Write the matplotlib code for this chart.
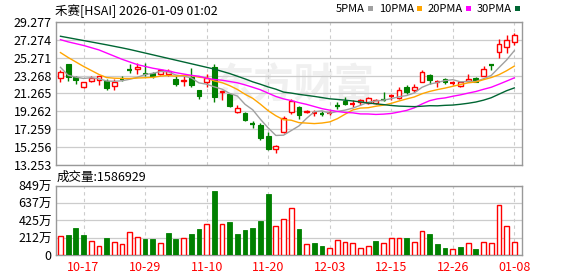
import numpy as np
import matplotlib
matplotlib.use("Agg")
import matplotlib.pyplot as plt
from matplotlib.patches import Rectangle

plt.rcParams['font.family'] = ['Noto Sans CJK SC', 'DejaVu Sans']

# ---- data ----
dates = ['10-14', '10-15', '10-16', '10-17', '10-20', '10-21', '10-22', '10-23', '10-24', '10-27',
         '10-28', '10-29', '10-30', '10-31', '11-03', '11-04', '11-05', '11-06', '11-07', '11-10',
         '11-11', '11-12', '11-13', '11-14', '11-17', '11-18', '11-19', '11-20', '11-21', '11-24',
         '11-25', '11-26', '11-28', '12-01', '12-02', '12-03', '12-04', '12-05', '12-08', '12-09',
         '12-10', '12-11', '12-12', '12-15', '12-16', '12-17', '12-18', '12-19', '12-22', '12-23',
         '12-24', '12-26', '12-29', '12-30', '12-31', '01-02', '01-05', '01-06', '01-07', '01-08']

opens = [23.05, 24.55, 23.13, 22.01, 22.68, 22.76, 22.64, 22.16, 22.90, 23.95,
         23.98, 23.55, 23.57, 23.43, 23.43, 22.94, 22.64, 23.13, 21.64, 22.57,
         24.25, 21.45, 21.20, 19.16, 19.03, 17.90, 17.72, 16.50, 15.04, 16.90,
         19.20, 19.75, 19.17, 19.00, 19.05, 19.05, 19.90, 20.44, 20.10, 20.33,
         20.22, 20.22, 20.62, 20.93, 20.78, 21.94, 21.64, 22.57, 23.32, 22.53,
         22.94, 22.45, 22.12, 22.64, 23.05, 23.24, 24.45, 25.93, 26.48, 27.04]
highs = [23.87, 24.60, 23.24, 22.60, 23.28, 23.24, 22.94, 22.90, 23.28, 24.62,
         24.73, 24.69, 23.70, 23.98, 23.98, 23.20, 23.20, 24.17, 21.64, 23.43,
         24.62, 21.60, 21.30, 19.95, 19.20, 18.20, 17.95, 16.90, 15.48, 18.75,
         20.60, 19.90, 19.45, 19.47, 19.28, 19.32, 20.33, 20.89, 20.52, 20.70,
         20.90, 20.70, 21.45, 21.26, 21.94, 22.20, 22.38, 23.87, 23.50, 22.76,
         23.05, 22.64, 22.57, 23.50, 23.10, 24.32, 24.55, 27.42, 27.79, 28.05]
lows = [22.57, 22.68, 22.31, 21.90, 22.50, 22.27, 21.71, 21.64, 22.68, 23.61,
        23.43, 23.20, 23.05, 23.32, 23.28, 22.09, 22.09, 21.94, 20.70, 22.01,
        20.33, 20.50, 19.70, 19.07, 18.20, 17.35, 16.05, 14.93, 14.63, 16.80,
        19.00, 18.40, 19.03, 18.73, 18.73, 18.90, 19.48, 20.00, 19.70, 19.96,
        20.10, 20.10, 20.41, 20.52, 20.70, 21.26, 21.45, 22.50, 22.38, 22.00,
        22.38, 22.20, 22.01, 22.50, 22.50, 23.20, 23.95, 25.29, 25.81, 26.67]
closes = [23.73, 23.13, 22.76, 22.53, 23.02, 23.17, 21.86, 22.57, 22.83, 23.87,
          24.24, 23.45, 23.20, 23.87, 23.76, 22.38, 22.83, 22.27, 21.04, 23.02,
          20.89, 21.55, 19.85, 19.60, 18.35, 17.82, 16.23, 15.05, 15.37, 18.50,
          20.40, 18.84, 19.32, 19.05, 18.98, 19.10, 19.82, 20.07, 20.15, 20.59,
          20.78, 20.52, 20.55, 21.00, 21.64, 21.45, 22.01, 23.69, 22.76, 22.60,
          22.50, 22.52, 22.50, 22.94, 22.57, 24.06, 24.38, 26.86, 27.23, 27.79]
# volume in 万股
volumes = [234, 246, 332, 246, 172, 107, 209, 156, 135, 279,
           217, 197, 197, 144, 271, 197, 205, 258, 316, 377,
           787, 377, 406, 258, 308, 332, 418, 750, 353, 439,
           574, 320, 135, 152, 111, 86, 185, 160, 152, 86,
           111, 176, 148, 209, 209, 213, 160, 295, 258, 135,
           86, 70, 98, 148, 74, 160, 148, 615, 357, 158.6929]
last_volume = 1586929
# moving-average values before a full window exists
ma5_head = [24.20, 23.30, 23.10, 22.95]
ma10_head = [25.85, 25.30, 24.80, 24.30, 23.85, 23.40, 23.05, 22.98, 22.95]
ma20_head = [27.30, 27.05, 26.85, 26.65, 26.40, 26.15, 25.80, 25.45, 25.10, 24.80,
             24.50, 24.30, 24.10, 23.95, 23.80, 23.60, 23.45, 23.30, 23.20]
ma30_head = [27.68, 27.52, 27.36, 27.20, 27.04, 26.88, 26.72, 26.55, 26.38, 26.20,
             26.00, 25.80, 25.60, 25.40, 25.20, 25.00, 24.80, 24.60, 24.40, 24.20,
             24.00, 23.75, 23.50, 23.20, 22.90, 22.57, 22.30, 22.00, 21.75]

price_ticks = [13.253, 15.256, 17.259, 19.262, 21.265, 23.268, 25.271, 27.274, 29.277]
vol_ticks = [0, 212, 425, 637, 849]
vol_tick_labels = ['0', '212万', '425万', '637万', '849万']
xtick_idx = [3, 11, 19, 27, 35, 43, 51, 59]
ma_labels = ['5PMA', '10PMA', '20PMA', '30PMA']

RED = '#ff0000'
GREEN = '#008000'
MA_COLORS = ['#a0a0a0', '#ffa500', '#ff00ff', '#006633']
GRID = '#cccccc'
BORDER = '#999999'

W, H = 578, 276


def fx(px):
    return px / W


def fy(py):
    return 1 - py / H


def moving_avg(vals, n, head):
    out = list(head)
    for i in range(len(head), len(vals)):
        out.append(np.mean(vals[i - n + 1:i + 1]))
    return np.array(out)


n = len(closes)
x = np.arange(n)

fig = plt.figure(figsize=(W / 100, H / 100), dpi=100)
ax = fig.add_axes([fx(56), fy(165), fx(522) - fx(56), fy(22) - fy(165)])
axv = fig.add_axes([fx(56), fy(255), fx(522) - fx(56), fy(186) - fy(255)])

for a in (ax, axv):
    a.set_xlim(-0.58, 60.0)
    for s in a.spines.values():
        s.set_color(BORDER)
        s.set_linewidth(1.0)
    a.set_xticks(xtick_idx)
    a.xaxis.grid(True, color=GRID, ls=(0, (3, 3)), lw=0.8)
    a.yaxis.grid(True, color=GRID, lw=0.9)
    a.set_axisbelow(True)
    a.tick_params(length=0)

# price panel
ax.set_ylim(price_ticks[0], price_ticks[-1])
ax.set_yticks(price_ticks)
ax.set_yticklabels(['%.3f' % t for t in price_ticks])
ax.tick_params(axis='y', labelsize=9, pad=3)
ax.tick_params(axis='x', labelbottom=False)

ax.text(0.51, 0.55, '东方财富', transform=ax.transAxes, ha='center', va='center',
        fontsize=29, color='#f0f0f0', zorder=0.5, fontweight='bold')

bw = 0.62
for i in range(n):
    o, h, l, c = opens[i], highs[i], lows[i], closes[i]
    col = RED if c >= o else GREEN
    ax.vlines(i, l, h, color=col, lw=1.0, zorder=2)
    if abs(c - o) < 0.1:
        ax.hlines((o + c) / 2, i - bw / 2, i + bw / 2, color=col, lw=1.6, zorder=3)
    elif c > o:
        ax.add_patch(Rectangle((i - bw / 2, o), bw, c - o, facecolor='white',
                               edgecolor=RED, lw=1.0, zorder=3))
    else:
        ax.add_patch(Rectangle((i - bw / 2, c), bw, o - c, facecolor=GREEN,
                               edgecolor=GREEN, lw=0.8, zorder=3))

ma_lines = [moving_avg(closes, 5, ma5_head), moving_avg(closes, 10, ma10_head),
            moving_avg(closes, 20, ma20_head), moving_avg(closes, 30, ma30_head)]
for m, col in zip(ma_lines, MA_COLORS):
    ax.plot(x, m, color=col, lw=1.0, zorder=4)

# volume panel
axv.set_ylim(0, vol_ticks[-1])
axv.set_yticks(vol_ticks)
axv.set_yticklabels(vol_tick_labels)
axv.tick_params(axis='y', labelsize=9, pad=3)
axv.set_xticklabels([dates[i] for i in xtick_idx], color=RED, fontsize=9)
axv.tick_params(axis='x', pad=4)

for i in range(n):
    up = True if i == 0 else closes[i] >= closes[i - 1]
    if up:
        axv.bar(i, volumes[i], width=bw, facecolor='white', edgecolor=RED, lw=1.0, zorder=3)
    else:
        axv.bar(i, volumes[i], width=bw, facecolor=GREEN, edgecolor=GREEN, lw=0.6, zorder=3)

# header texts
fig.text(fx(55), fy(11), '禾赛[HSAI] 2026-01-09 01:02', fontsize=9, va='center', ha='left')
fig.text(fx(57), fy(177), '成交量:%d' % last_volume, fontsize=9, va='center', ha='left')

# legend: label followed by a small colour square
renderer = fig.canvas.get_renderer()
lx = 336
for lbl, col in zip(ma_labels, MA_COLORS):
    t = fig.text(fx(lx), fy(9), lbl, fontsize=8, va='center', ha='left')
    tw = t.get_window_extent(renderer).width
    sx = lx + tw + 3
    fig.add_artist(Rectangle((fx(sx), fy(11)), 5 / W, 5 / H, transform=fig.transFigure,
                             facecolor=col, edgecolor='none'))
    lx = sx + 11

fig.savefig('out.png', dpi=100)
